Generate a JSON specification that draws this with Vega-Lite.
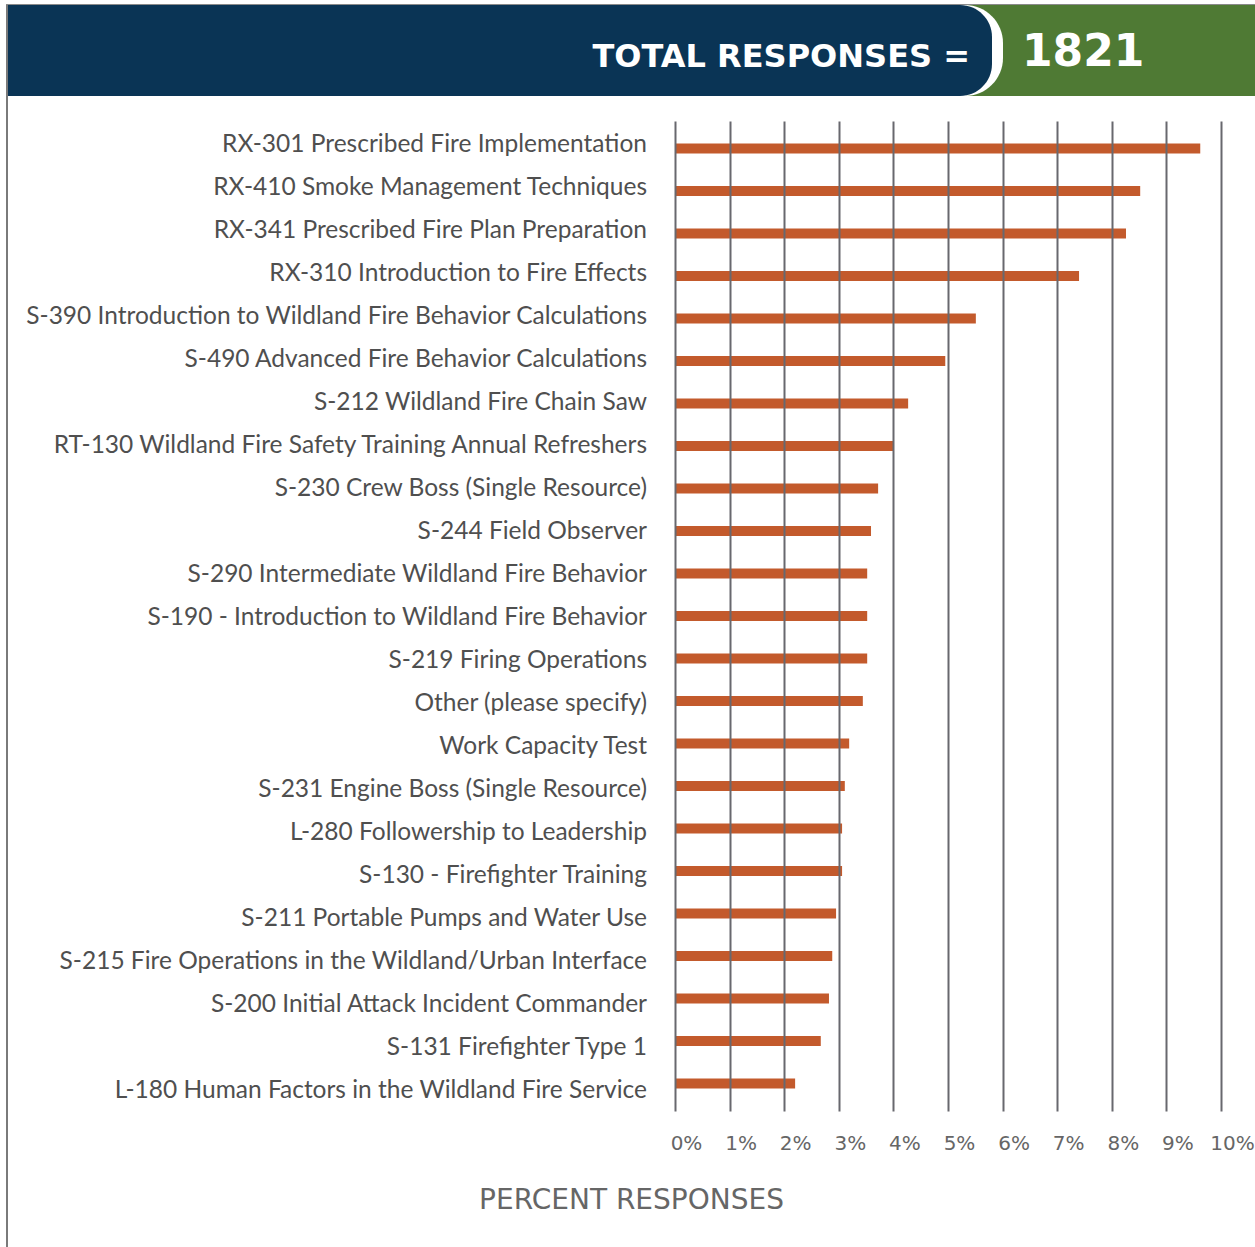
{
  "$schema": "https://vega.github.io/schema/vega-lite/v6.json",
  "padding": {"left": 6, "top": 4, "right": 0, "bottom": 0},
  "background": "white",
  "spacing": 0,
  "config": {
    "view": {"stroke": null},
    "concat": {"spacing": 0}
  },
  "datasets": {
    "header": [{"label": "TOTAL RESPONSES =", "total": 1821}],
    "courses": [
      {"course": "RX-301 Prescribed Fire Implementation", "pct": 0.0962},
      {"course": "RX-410 Smoke Management Techniques", "pct": 0.0852},
      {"course": "RX-341 Prescribed Fire Plan Preparation", "pct": 0.0826},
      {"course": "RX-310 Introduction to Fire Effects", "pct": 0.0740},
      {"course": "S-390 Introduction to Wildland Fire Behavior Calculations", "pct": 0.0551},
      {"course": "S-490 Advanced Fire Behavior Calculations", "pct": 0.0495},
      {"course": "S-212 Wildland Fire Chain Saw", "pct": 0.0427},
      {"course": "RT-130 Wildland Fire Safety Training Annual Refreshers", "pct": 0.0401},
      {"course": "S-230 Crew Boss (Single Resource)", "pct": 0.0372},
      {"course": "S-244 Field Observer", "pct": 0.0359},
      {"course": "S-290 Intermediate Wildland Fire Behavior", "pct": 0.0352},
      {"course": "S-190 - Introduction to Wildland Fire Behavior", "pct": 0.0352},
      {"course": "S-219 Firing Operations", "pct": 0.0352},
      {"course": "Other (please specify)", "pct": 0.0344},
      {"course": "Work Capacity Test", "pct": 0.0319},
      {"course": "S-231 Engine Boss (Single Resource)", "pct": 0.0311},
      {"course": "L-280 Followership to Leadership", "pct": 0.0306},
      {"course": "S-130 - Firefighter Training", "pct": 0.0306},
      {"course": "S-211 Portable Pumps and Water Use", "pct": 0.0295},
      {"course": "S-215 Fire Operations in the Wildland/Urban Interface", "pct": 0.0288},
      {"course": "S-200 Initial Attack Incident Commander", "pct": 0.0282},
      {"course": "S-131 Firefighter Type 1", "pct": 0.0267},
      {"course": "L-180 Human Factors in the Wildland Fire Service", "pct": 0.0220}
    ]
  },
  "vconcat": [
    {
      "width": 1249,
      "height": 1,
      "data": {"name": "header"},
      "mark": {"type": "rect", "fill": "#8a8a8a"}
    },
    {
      "spacing": 0,
      "hconcat": [
        {
          "width": 2,
          "height": 1242,
          "data": {"name": "header"},
          "mark": {"type": "rect", "fill": "#7a7a7a"}
        },
        {
          "spacing": 25,
          "vconcat": [
            {
              "spacing": 0,
              "hconcat": [
                {
                  "width": 995,
                  "height": 91,
                  "view": {"fill": "#4f7a34", "stroke": null},
                  "data": {"name": "header"},
                  "layer": [
                    {
                      "mark": {"type": "rect", "fill": "white", "cornerRadiusTopRight": 38, "cornerRadiusBottomRight": 38}
                    },
                    {
                      "mark": {"type": "rect", "fill": "#0a3455", "xOffset": -11, "cornerRadiusTopRight": 32, "cornerRadiusBottomRight": 32}
                    },
                    {
                      "mark": {"type": "text", "align": "right", "baseline": "middle", "dx": -33, "dy": 6, "font": "DejaVu Sans", "fontWeight": "bold", "fontSize": 32, "color": "white"},
                      "encoding": {
                        "x": {"value": "width"},
                        "text": {"field": "label", "type": "nominal"}
                      }
                    }
                  ]
                },
                {
                  "width": 252,
                  "height": 91,
                  "view": {"fill": "#4f7a34", "stroke": null},
                  "data": {"name": "header"},
                  "mark": {"type": "text", "align": "left", "baseline": "middle", "dx": 19, "dy": 2, "font": "DejaVu Sans", "fontWeight": "bold", "fontSize": 44, "color": "white"},
                  "encoding": {
                    "x": {"value": 0},
                    "text": {"field": "total", "type": "quantitative", "format": "d"}
                  }
                }
              ]
            },
            {
              "spacing": 0,
              "bounds": "flush",
              "hconcat": [
                {
                  "width": 667,
                  "height": 990,
                  "data": {"name": "courses"},
                  "mark": {"type": "text", "align": "right", "baseline": "middle", "dx": -28, "dy": 2, "font": "Lato", "fontSize": 24.5, "color": "#4f4f4f"},
                  "encoding": {
                    "y": {"field": "course", "type": "nominal", "sort": null, "axis": null, "scale": {"paddingInner": 0.7647, "paddingOuter": 0.529}},
                    "x": {"value": "width"},
                    "text": {"field": "course", "type": "nominal"}
                  }
                },
                {
                  "width": 546,
                  "height": 990,
                  "data": {"name": "courses"},
                  "mark": {"type": "bar", "color": "#c35a2c"},
                  "encoding": {
                    "y": {"field": "course", "type": "nominal", "sort": null, "axis": null, "scale": {"paddingInner": 0.7647, "paddingOuter": 0.529}},
                    "x": {
                      "field": "pct",
                      "type": "quantitative",
                      "scale": {"domain": [0, 0.1], "nice": false},
                      "axis": {
                        "orient": "bottom",
                        "title": null,
                        "values": [0, 0.01, 0.02, 0.03, 0.04, 0.05, 0.06, 0.07, 0.08, 0.09, 0.1],
                        "format": ".0%",
                        "grid": true,
                        "gridColor": "#68686e",
                        "gridWidth": 2,
                        "domain": false,
                        "ticks": false,
                        "labelFlush": false,
                        "labelPadding": 22,
                        "labelOffset": 11,
                        "labelFont": "DejaVu Sans",
                        "labelFontSize": 20,
                        "labelColor": "#666666",
                        "zindex": 1
                      }
                    }
                  }
                }
              ]
            },
            {
              "width": 1247,
              "height": 40,
              "data": {"name": "header"},
              "mark": {"type": "text", "text": "PERCENT RESPONSES", "align": "center", "baseline": "middle", "dy": 3, "font": "DejaVu Sans", "fontSize": 28, "fontWeight": "normal", "color": "#666666"}
            }
          ]
        }
      ]
    }
  ]
}
